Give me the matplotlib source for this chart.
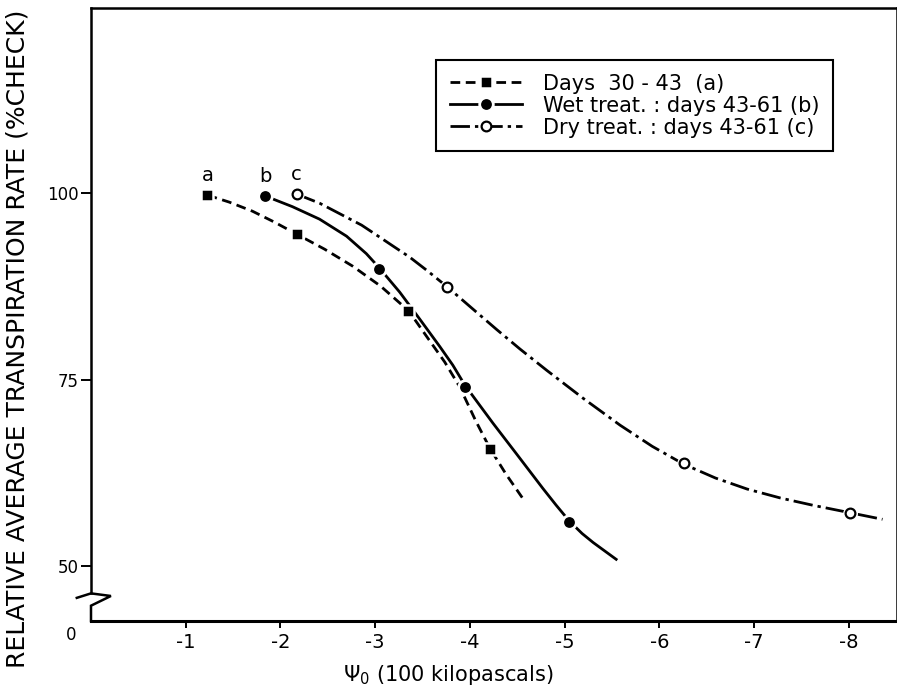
import matplotlib
matplotlib.use("Agg")
import matplotlib.pyplot as plt
from matplotlib.lines import Line2D

# measured points (osmotic potential, 100 kPa ; relative transpiration, % check)
a_x = [-1.23, -2.17, -3.35, -4.21]
a_y = [99.7, 94.5, 84.2, 65.8]
b_x = [-1.84, -3.04, -3.95, -5.05]
b_y = [99.6, 89.9, 74.0, 55.9]
c_x = [-2.17, -3.76, -6.26, -8.01]
c_y = [99.9, 87.5, 63.8, 57.2]

# hand-fitted curves
a_cx = [-1.231, -1.460, -1.704, -1.937, -2.172, -2.466, -2.762, -3.058, -3.354,
        -3.556, -3.735, -3.894, -4.063, -4.212, -4.381, -4.558]
a_cy = [99.73, 98.80, 97.59, 96.12, 94.51, 92.50, 90.23, 87.55, 84.24,
        80.59, 77.38, 74.03, 69.48, 65.82, 62.38, 59.13]
b_cx = [-1.838, -2.127, -2.413, -2.698, -2.907, -3.037, -3.259, -3.471, -3.683, -3.820,
        -3.947, -4.095, -4.243, -4.494, -4.772, -4.910, -5.050, -5.185, -5.302, -5.545]
b_cy = [99.63, 98.19, 96.52, 94.24, 91.90, 90.09, 86.75, 83.13, 79.45, 76.97,
        74.30, 71.75, 69.21, 65.06, 60.44, 58.23, 56.09, 54.42, 53.21, 50.96]
c_cx = [-2.172, -2.413, -2.656, -2.857, -3.048, -3.206, -3.365, -3.556, -3.764, -4.000,
        -4.283, -4.529, -4.812, -5.196, -5.587, -5.926, -6.257, -6.593, -6.928, -7.280,
        -7.633, -8.014, -8.357]
c_cy = [99.87, 98.66, 97.05, 95.72, 94.11, 92.77, 91.43, 89.56, 87.42, 84.83,
        81.74, 79.13, 76.27, 72.53, 68.92, 66.09, 63.71, 61.85, 60.37, 59.17,
        58.17, 57.20, 56.32]

labels = ["Days  30 - 43  (a)", "Wet treat. : days 43-61 (b)", "Dry treat. : days 43-61 (c)"]
tags = ["a", "b", "c"]
xticks = [-1, -2, -3, -4, -5, -6, -7, -8]
xticklabels = ["-1", "-2", "-3", "-4", "-5", "-6", "-7", "-8"]
yticks = [50, 75, 100]

plt.rcParams["font.family"] = ["DejaVu Sans"]

fig = plt.figure(figsize=(8.97, 6.96), dpi=100)
ax = fig.add_axes([91 / 897, 75 / 696, 806 / 897, 613 / 696])

lw = 2.0
dash_a = (0, (3.5, 2.0))
dash_c = (0, (7, 1.8, 1.2, 1.8))

ax.plot(a_cx, a_cy, color="black", lw=lw, ls=dash_a)
ax.plot(b_cx, b_cy, color="black", lw=lw, ls="-")
ax.plot(c_cx, c_cy, color="black", lw=lw, ls=dash_c)

ax.plot(a_x, a_y, ls="none", marker="s", ms=8.8, mfc="black", mec="white", mew=1.8, zorder=3)
ax.plot(b_x, b_y, ls="none", marker="o", ms=9.8, mfc="black", mec="white", mew=2.0, zorder=3)
ax.plot(c_x, c_y, ls="none", marker="o", ms=10.5, mfc="white", mec="white", mew=0, zorder=3)
ax.plot(c_x, c_y, ls="none", marker="o", ms=7.0, mfc="white", mec="black", mew=1.6, zorder=4)

for t, xs, ys in zip(tags, [a_x, b_x, c_x], [a_y, b_y, c_y]):
    ax.annotate(t, (xs[0], ys[0]), xytext=(0, 14), textcoords="offset points",
                ha="center", va="center", fontsize=14)

ax.set_xlim(0, -8.51)
ax.set_ylim(42.7, 124.8)
ax.set_xticks(xticks)
ax.set_xticklabels(xticklabels, fontsize=14)
ax.set_yticks(yticks)
ax.set_yticklabels([str(v) for v in yticks], fontsize=12)
ax.tick_params(axis="x", direction="out", length=5, width=1.4, pad=4)
ax.tick_params(axis="y", direction="out", length=7, width=1.4, pad=2)

for s in ax.spines.values():
    s.set_linewidth(1.8)
ax.spines["bottom"].set_linewidth(2.2)
ax.spines["left"].set_bounds(46.4, 124.8)

# axis break on the y axis
brk_x = [0.15, 0.0, -0.21, 0.0, 0.0]
brk_y = [45.8, 46.4, 46.05, 44.75, 42.7]
ax.plot(brk_x, brk_y, color="black", lw=1.8, clip_on=False, solid_joinstyle="miter")
ax.annotate("0", (0, 42.7), xytext=(-14, -10), textcoords="offset points",
            ha="center", va="center", fontsize=12)

ax.set_xlabel(r"$\Psi_0$ (100 kilopascals)", fontsize=15)
ax.xaxis.set_label_coords((448 - 91) / 806, -(675 - 621) / 613)
ax.xaxis.label.set_va("center")
ax.set_ylabel("RELATIVE AVERAGE TRANSPIRATION RATE (%CHECK)", fontsize=18)
ax.yaxis.set_label_coords(-(91 - 18) / 806, (621 - 339) / 613)
ax.yaxis.label.set_va("center")

handles = [
    Line2D([], [], color="black", lw=lw, ls=dash_a, marker="s", ms=8.8, mfc="black", mec="white", mew=1.8),
    Line2D([], [], color="black", lw=lw, ls="-", marker="o", ms=9.8, mfc="black", mec="white", mew=2.0),
    Line2D([], [], color="black", lw=lw, ls=dash_c, marker="o", ms=7.0, mfc="white", mec="black", mew=1.6),
]
leg = ax.legend(handles, labels, loc="upper left",
                bbox_to_anchor=((436 - 91) / 806, (621 - 60) / 613), borderaxespad=0,
                fontsize=15, handlelength=3.5, handletextpad=1.0, labelspacing=0.1,
                borderpad=0.65, fancybox=False, frameon=True, framealpha=1)
leg.get_frame().set_edgecolor("black")
leg.get_frame().set_linewidth(1.5)

fig.savefig("out.png", dpi=100)
